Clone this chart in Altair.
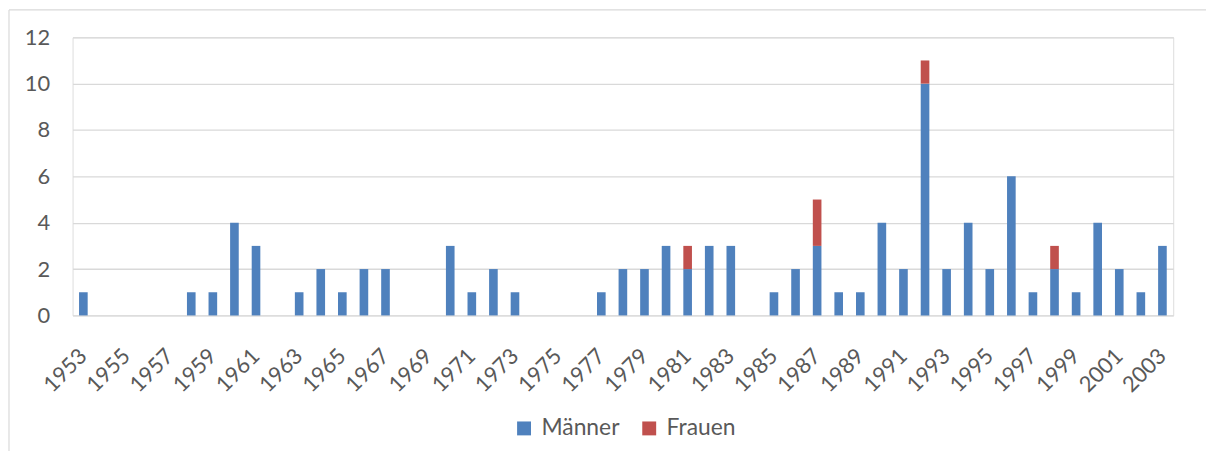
import altair as alt
import pandas as pd

years = list(range(1953, 2004))
maenner = [1, 0, 0, 0, 0, 1, 1, 4, 3, 0,
           1, 2, 1, 2, 2, 0, 0, 3, 1, 2,
           1, 0, 0, 0, 1, 2, 2, 3, 2, 3,
           3, 0, 1, 2, 3, 1, 1, 4, 2, 10,
           2, 4, 2, 6, 1, 2, 1, 4, 2, 1,
           3]
frauen = [0] * 51
for y, v in [(1981, 1), (1987, 2), (1992, 1), (1998, 1)]:
    frauen[years.index(y)] = v

series = ["Männer", "Frauen"]
colors = ["#4f81bd", "#c0504d"]
y_ticks = [0, 2, 4, 6, 8, 10, 12]
x_labels = [y for y in years if y % 2 == 1]

rows = []
for i, yr in enumerate(years):
    rows.append({"Jahr": yr, "Gruppe": "Männer", "Anzahl": maenner[i], "ord": 0})
    rows.append({"Jahr": yr, "Gruppe": "Frauen", "Anzahl": frauen[i], "ord": 1})
df = pd.DataFrame(rows)

FONT = "Lato"
TXT = "#595959"
GRID = "#d9d9d9"

bars = alt.Chart(df).mark_bar().encode(
    x=alt.X("Jahr:O",
            scale=alt.Scale(domain=years, paddingInner=0.6, paddingOuter=0.3),
            axis=alt.Axis(title=None, values=x_labels, labelAngle=-45,
                          labelAlign="right", labelBaseline="middle",
                          ticks=False, tickSize=0, domain=False, grid=False,
                          labelPadding=37, labelFontSize=22, labelFont=FONT,
                          labelColor=TXT, labelOverlap=False)),
    y=alt.Y("Anzahl:Q", stack="zero",
            scale=alt.Scale(domain=[0, 12], nice=False),
            axis=alt.Axis(title=None, values=y_ticks, grid=True, gridColor=GRID,
                          gridWidth=1.3, ticks=False, domain=False,
                          labelPadding=23, labelFontSize=22, labelFont=FONT,
                          labelColor=TXT)),
    color=alt.Color("Gruppe:N",
                    scale=alt.Scale(domain=series, range=colors),
                    legend=alt.Legend(title=None, orient="none", legendX=443,
                                      legendY=382, direction="horizontal",
                                      symbolType="square", symbolSize=196,
                                      symbolStrokeWidth=0, labelFontSize=23,
                                      labelFont=FONT, labelColor=TXT,
                                      labelOffset=6, columnPadding=18,
                                      padding=0)),
    order=alt.Order("ord:Q"),
)

border_df = pd.DataFrame({"k": [0]})
top_border = alt.Chart(border_df).mark_rule(color=GRID, strokeWidth=1.2).encode(
    x=alt.value(-64), x2=alt.value(1141), y=alt.value(-27.5))
left_border = alt.Chart(border_df).mark_rule(color=GRID, strokeWidth=1.2).encode(
    x=alt.value(-64), y=alt.value(-27.5), y2=alt.value(420))

chart = alt.layer(bars, top_border, left_border).properties(
    width=1108, height=280,
    padding={"left": 65, "top": 28, "right": 33, "bottom": 135},
    autosize=alt.AutoSizeParams(type="none"),
).configure_view(stroke=None).configure(background="white")

chart.save("out.html", embed_options={"renderer": "svg", "actions": False})
